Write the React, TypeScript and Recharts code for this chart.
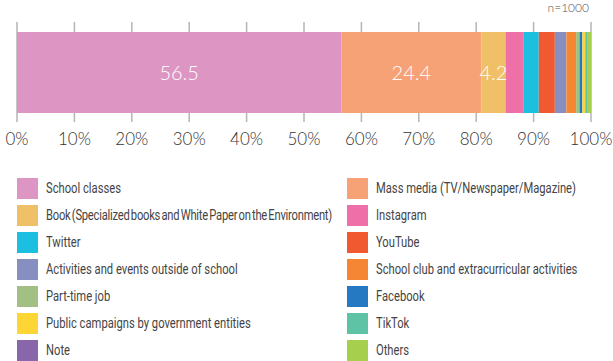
import React from 'react'
import { BarChart, Bar, XAxis, YAxis, CartesianGrid, Legend, LabelList } from 'recharts'

const categories = [
    'School classes',
    'Mass media (TV/Newspaper/Magazine)',
    'Book (Specialized books and White Paper on the Environment)',
    'Instagram',
    'Twitter',
    'YouTube',
    'Activities and events outside of school',
    'School club and extracurricular activities',
    'Part-time job',
    'Facebook',
    'Public campaigns by government entities',
    'TikTok',
    'Note',
    'Others',
]
const shares = [56.5, 24.4, 4.2, 3.2, 2.6, 2.8, 2.0, 1.7, 0.6, 0.5, 0.5, 0.3, 0.1, 0.6]
const COLORS = [
    '#dd96c3', '#f6a276', '#f0c068', '#ef70a9', '#1dbfe0', '#f15a30', '#878fc0',
    '#f58634', '#a2c084', '#2479c2', '#fdd535', '#5ec3a5', '#8866aa', '#a6cf4e',
]
const xTicks = [0, 10, 20, 30, 40, 50, 60, 70, 80, 90, 100]
const sampleNote = 'n=1000'

// one row, one key per category
const row: Record<string, any> = { name: 'all' }
categories.forEach((c, i) => { row[`s${i}`] = shares[i] })
const data = [row]

function renderLegend(props: any) {
    const { payload } = props
    return (
        <div style={{ display: 'grid', gridTemplateColumns: '330px 250px', gridAutoRows: '27px' }}>
            {payload.map((entry: any, index: number) => {
                // the long "Book" label is set tighter so it stays in its column
                const tight = String(entry.value).length > 50
                return (
                    <div key={`item-${index}`} style={{ display: 'flex', alignItems: 'flex-start' }}>
                        <span style={{ width: 21, height: 21, background: entry.color, display: 'inline-block', flexShrink: 0 }}></span>
                        <span style={{
                            marginLeft: 8, fontFamily: 'Roboto, sans-serif', fontSize: 14, color: '#444',
                            lineHeight: '21px', whiteSpace: 'nowrap', display: 'inline-block',
                            transform: 'scaleX(0.8)', transformOrigin: 'left center',
                            wordSpacing: tight ? -1.5 : 0, letterSpacing: tight ? -0.3 : 0,
                        }}>
                            {entry.value}
                        </span>
                    </div>
                )
            })}
        </div>
    )
}

export default function App() {
    return (
        <div style={{ position: 'absolute', left: 0, top: 0, width: 613, height: 361, background: '#fff' }}>
            <div style={{ position: 'absolute', right: 24, top: 0, lineHeight: 'normal', fontFamily: 'Lato, sans-serif', fontSize: 12, color: '#555', fontWeight: 300 }}>
                {sampleNote}
            </div>
            <BarChart
                width={613}
                height={361}
                data={data}
                layout="vertical"
                margin={{ top: 22, right: 22, left: 17, bottom: 209 }}
                barSize={81}
            >
                <CartesianGrid horizontal={false} stroke="#b5b5b5" strokeWidth={1.5} />
                <XAxis
                    type="number"
                    domain={[0, 100]}
                    ticks={xTicks}
                    interval={0}
                    axisLine={false}
                    tickLine={false}
                    height={30}
                    tickMargin={5}
                    tickFormatter={(v) => `${v}%`}
                    tick={{ fontSize: 17, fill: '#333', fontFamily: 'Lato, sans-serif', fontWeight: 300 }}
                />
                <YAxis type="category" dataKey="name" hide />
                <Legend
                    layout="horizontal"
                    verticalAlign="middle"
                    align="center"
                    content={renderLegend}
                    itemSorter={(item: any) => categories.indexOf(item.value)}
                    wrapperStyle={{ top: 178, left: 17, width: 590 }}
                />
                {categories.map((c, i) => (
                    <Bar key={c} dataKey={`s${i}`} name={c} stackId="a" fill={COLORS[i]} isAnimationActive={false}>
                        {shares[i] >= 4 && (
                            <LabelList
                                dataKey={`s${i}`}
                                position="center"
                                fill="#fff"
                                style={{ fontSize: 20, fontFamily: 'Lato, sans-serif', fontWeight: 300 }}
                            />
                        )}
                    </Bar>
                ))}
            </BarChart>
        </div>
    )
}
